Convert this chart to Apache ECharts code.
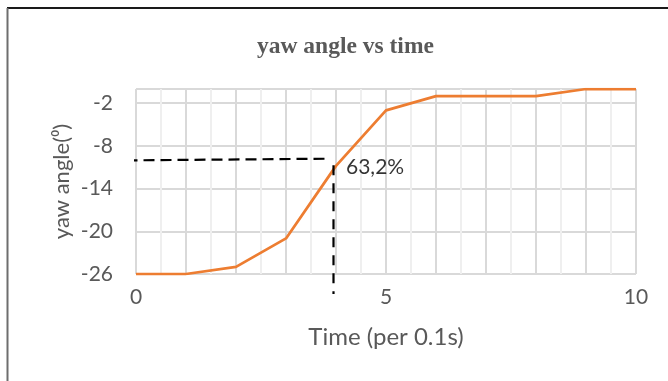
<!DOCTYPE html>
<html>
<head>
<meta charset="utf-8">
<script src="https://cdn.jsdelivr.net/npm/echarts@6/dist/echarts.min.js"></script>
<style>
  html, body { margin: 0; padding: 0; background: #ffffff; }
  #chart { width: 668px; height: 381px; }
</style>
</head>
<body>
<div id="chart"></div>
<script>
// Yaw angle response, sampled every 0.1 s
const timeSteps = [0, 1, 2, 3, 4, 5, 6, 7, 8, 9, 10];
const yawAngle = [-26, -26, -25, -21, -10.8, -3, -1, -1, -1, 0, 0];

// Axis ticks
const xTickLabels = [0, 5, 10];
const yTickLabels = [-26, -20, -14, -8, -2];
const yGridValues = [-26, -20, -14, -8, -2, 0];

// Hand-drawn guides marking the 63.2 % rise point
const guideLevel = [[-0.53, -10.05], [3.8, -9.8]];
const guideTime = [[3.95, -10.7], [3.95, -28.8]];
const guideText = '63,2%';
const guideTextAt = [[4.2, -10.95]];

const titleText = 'yaw angle vs time';
const xName = 'Time (per 0.1s)';
const yName = 'yaw angle(\u2070)';

const chart = echarts.init(document.getElementById('chart'), null, { renderer: 'canvas' });

const sansFont = 'Lato, "Open Sans", sans-serif';
const gray = '#595959';

chart.setOption({
  animation: false,
  backgroundColor: '#ffffff',
  title: {
    text: titleText,
    left: 252,
    top: 30,
    textStyle: {
      fontFamily: '"Liberation Serif", "Times New Roman", serif',
      fontWeight: 'bold',
      fontSize: 23.5,
      color: gray
    }
  },
  grid: { left: 136, right: 32, top: 89, bottom: 107 },
  xAxis: {
    type: 'value',
    min: 0,
    max: 10,
    interval: 1,
    name: xName,
    nameLocation: 'middle',
    nameGap: 51,
    nameMoveOverlap: false,
    nameTextStyle: { fontFamily: sansFont, fontSize: 24, color: gray },
    axisLine: { show: false },
    axisTick: { show: false },
    minorTick: { show: false, splitNumber: 2 },
    axisLabel: {
      customValues: xTickLabels,
      margin: 13,
      fontFamily: sansFont,
      fontSize: 21,
      color: gray
    },
    splitLine: { show: true, lineStyle: { color: '#d9d9d9', width: 2 } },
    minorSplitLine: { show: true, lineStyle: { color: '#efefef', width: 2 } }
  },
  yAxis: {
    type: 'value',
    min: -26,
    max: 0,
    name: yName,
    nameLocation: 'middle',
    nameGap: 63,
    nameMoveOverlap: false,
    nameTextStyle: { fontFamily: sansFont, fontSize: 22, color: gray },
    axisLine: { show: false },
    axisTick: { show: false, customValues: yGridValues },
    axisLabel: {
      customValues: yTickLabels,
      margin: 23,
      fontFamily: sansFont,
      fontSize: 21,
      color: gray
    },
    splitLine: { show: true, lineStyle: { color: '#d9d9d9', width: 2 } }
  },
  graphic: [
    { type: 'line', shape: { x1: 7, y1: 8, x2: 668, y2: 8 }, style: { stroke: '#1a1a1a', lineWidth: 2 } },
    { type: 'line', shape: { x1: 7.5, y1: 8, x2: 7.5, y2: 381 }, style: { stroke: '#6e6e6e', lineWidth: 2 } }
  ],
  series: [
    {
      type: 'line',
      data: timeSteps.map((t, i) => [t, yawAngle[i]]),
      showSymbol: false,
      symbol: 'none',
      lineStyle: { color: '#ed7d31', width: 2.75 },
      z: 3
    },
    {
      type: 'line',
      data: guideLevel,
      clip: false,
      symbol: 'none',
      lineStyle: { color: '#000000', width: 2.2, type: [11, 6] },
      z: 4
    },
    {
      type: 'line',
      data: guideTime,
      clip: false,
      symbol: 'none',
      lineStyle: { color: '#000000', width: 2.2, type: [10, 8] },
      z: 4
    },
    {
      type: 'scatter',
      data: guideTextAt,
      symbolSize: 0,
      itemStyle: { color: 'rgba(0,0,0,0)' },
      label: {
        show: true,
        position: 'right',
        distance: 0,
        formatter: guideText,
        fontFamily: sansFont,
        fontSize: 21,
        color: '#000000'
      },
      z: 5
    }
  ]
});
</script>
</body>
</html>
